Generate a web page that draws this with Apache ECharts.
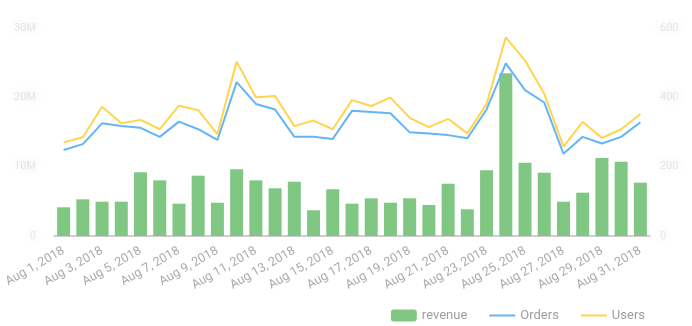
<!DOCTYPE html>
<html>
<head>
<meta charset="utf-8">
<script src="https://cdn.jsdelivr.net/npm/echarts@6/dist/echarts.min.js"></script>
<style>
  html, body { margin: 0; padding: 0; background: #fff; }
  #chart { width: 692px; height: 326px; }
</style>
</head>
<body>
<div id="chart"></div>
<script>
// Daily figures for August 2018
const days = [];
for (let d = 1; d <= 31; d++) days.push('Aug ' + d + ', 2018');

const revenue = [4.14, 5.29, 4.95, 4.95, 9.19, 8.03, 4.66, 8.70, 4.80, 9.62,
                 8.03, 6.88, 7.83, 3.71, 6.74, 4.66, 5.44, 4.80, 5.44, 4.47,
                 7.54, 3.85, 9.48, 23.47, 10.57, 9.13, 4.95, 6.25, 11.25, 10.72, 7.69]
  .map(v => v * 1e6);

const orders = [248, 265, 325, 317, 312, 286, 330, 308, 277, 444,
                381, 365, 286, 286, 280, 361, 358, 354, 299, 296,
                291, 282, 365, 498, 421, 385, 237, 286, 267, 286, 328];

const users = [270, 285, 373, 325, 335, 308, 376, 363, 294, 503,
               400, 404, 317, 333, 308, 392, 375, 399, 341, 314,
               338, 296, 381, 573, 506, 410, 258, 329, 283, 308, 352];

const revenueTicks = { 0: '0', 10000000: '10M', 20000000: '20M', 30000000: '30M' };

// value-axis labels are drawn soft and hazy
const fuzzyLabel = {
  color: 'rgba(190,190,190,0.35)',
  fontFamily: 'Roboto',
  fontSize: 11,
  textShadowColor: 'rgba(110,110,110,0.55)',
  textShadowBlur: 8
};

const chart = echarts.init(document.getElementById('chart'));
chart.setOption({
  animation: false,
  textStyle: { fontFamily: 'Roboto' },
  grid: { left: 54, right: 42, top: 28, bottom: 90 },
  legend: {
    right: 42,
    top: 304,
    itemWidth: 26,
    itemHeight: 12,
    itemGap: 22,
    textStyle: { color: '#9e9e9e', fontSize: 13, fontFamily: 'Roboto' },
    data: [
      { name: 'revenue' },
      { name: 'Orders', icon: 'path://M0,0 L26,0 L26,2 L0,2 Z' },
      { name: 'Users', icon: 'path://M0,0 L26,0 L26,2 L0,2 Z' }
    ]
  },
  xAxis: {
    type: 'category',
    data: days,
    axisLine: { lineStyle: { color: '#bdbdbd', width: 1.5 } },
    axisTick: { show: false },
    axisLabel: {
      interval: 1,
      rotate: 30,
      color: '#aaa',
      fontSize: 12.5,
      margin: 14
    }
  },
  yAxis: [
    {
      type: 'value',
      min: 0, max: 30000000, interval: 10000000,
      splitLine: { show: false },
      axisLine: { show: false },
      axisTick: { show: false },
      axisLabel: Object.assign({ margin: 18, formatter: v => revenueTicks[v] }, fuzzyLabel)
    },
    {
      type: 'value',
      min: 0, max: 600, interval: 200,
      splitLine: { show: false },
      axisLine: { show: false },
      axisTick: { show: false },
      axisLabel: Object.assign({ margin: 10 }, fuzzyLabel)
    }
  ],
  series: [
    {
      name: 'revenue',
      type: 'bar',
      yAxisIndex: 0,
      data: revenue,
      barWidth: 13,
      itemStyle: { color: '#81c784' }
    },
    {
      name: 'Orders',
      type: 'line',
      yAxisIndex: 1,
      data: orders,
      symbol: 'none',
      lineStyle: { color: '#64b5f6', width: 2 },
      itemStyle: { color: '#64b5f6' }
    },
    {
      name: 'Users',
      type: 'line',
      yAxisIndex: 1,
      data: users,
      symbol: 'none',
      lineStyle: { color: '#ffd54f', width: 2 },
      itemStyle: { color: '#ffd54f' }
    }
  ]
});
</script>
</body>
</html>
